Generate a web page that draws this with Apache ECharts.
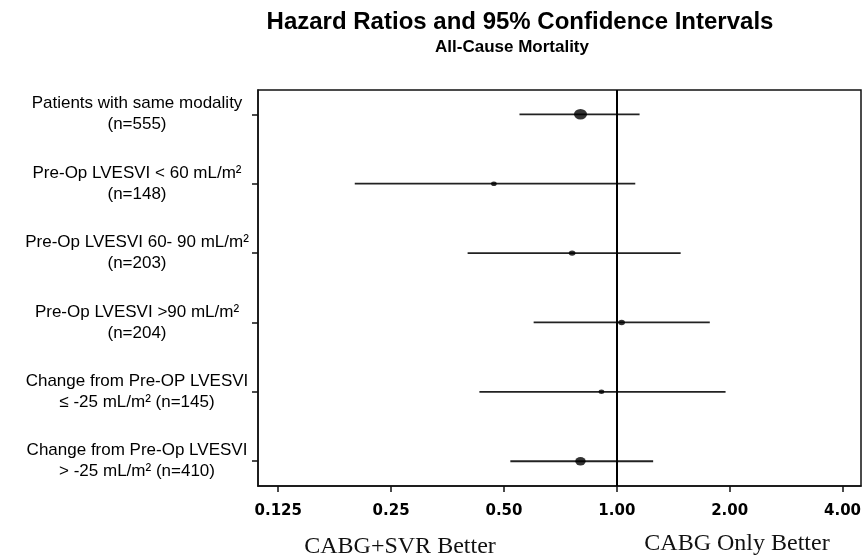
<!DOCTYPE html>
<html>
<head>
<meta charset="utf-8">
<title>Hazard Ratios</title>
<script src="https://cdn.jsdelivr.net/npm/echarts@6/dist/echarts.min.js"></script>
<style>
	html, body { margin: 0; padding: 0; background: #fff; }
	#main { width: 865px; height: 559px; }
</style>
</head>
<body>
<div id="main"></div>
<script>
	/*数据*/
	var groups = [
		'Patients with same modality\n(n=555)',
		'Pre-Op LVESVI < 60 mL/m²\n(n=148)',
		'Pre-Op LVESVI 60- 90 mL/m²\n(n=203)',
		'Pre-Op LVESVI >90 mL/m²\n(n=204)',
		'Change from Pre-OP LVESVI\n≤ -25 mL/m² (n=145)',
		'Change from Pre-Op LVESVI\n> -25 mL/m² (n=410)'
	];
	var patients = [555, 148, 203, 204, 145, 410];
	var hr = [0.80, 0.47, 0.76, 1.03, 0.91, 0.80];
	var lower = [0.55, 0.20, 0.40, 0.60, 0.43, 0.52];
	var upper = [1.15, 1.12, 1.48, 1.77, 1.95, 1.25];
	var xTickVals = [0.125, 0.25, 0.5, 1, 2, 4];
	var xTickText = ['0.125', '0.25', '0.50', '1.00', '2.00', '4.00'];

	var myChart = echarts.init(document.getElementById('main'));

	// 横轴用 log2 空间
	var lineData = [];
	var pointData = [];
	for (var i = 0; i < hr.length; i++) {
		lineData.push([Math.log2(lower[i]), Math.log2(upper[i]), i]);
		pointData.push([Math.log2(hr[i]), i, patients[i]]);
	}

	var option = {
		animation: false,
		grid: {
			left: 258,
			right: 4,
			top: 90,
			bottom: 73,
			show: true,
			borderColor: '#111',
			borderWidth: 1.5
		},
		graphic: [{
			type: 'text',
			x: 520,
			y: 22,
			style: {
				text: 'Hazard Ratios and 95% Confidence Intervals',
				font: 'bold 24px "Liberation Sans", Arial, sans-serif',
				fill: '#000',
				textAlign: 'center',
				textVerticalAlign: 'middle'
			}
		}, {
			type: 'text',
			x: 512,
			y: 47,
			style: {
				text: 'All-Cause Mortality',
				font: 'bold 17px "Liberation Sans", Arial, sans-serif',
				fill: '#000',
				textAlign: 'center',
				textVerticalAlign: 'middle'
			}
		}, {
			type: 'text',
			x: 400,
			y: 547,
			style: {
				text: 'CABG+SVR Better',
				font: '24px "Liberation Serif", "Times New Roman", serif',
				fill: '#111',
				textAlign: 'center',
				textVerticalAlign: 'middle'
			}
		}, {
			type: 'text',
			x: 737,
			y: 544,
			style: {
				text: 'CABG Only Better',
				font: '24px "Liberation Serif", "Times New Roman", serif',
				fill: '#111',
				textAlign: 'center',
				textVerticalAlign: 'middle'
			}
		}],
		xAxis: {
			type: 'value',
			min: Math.log2(0.1104),
			max: Math.log2(4.48),
			splitLine: { show: false },
			axisLine: { onZero: false, lineStyle: { color: '#111', width: 1.5 } },
			axisTick: {
				length: 6,
				customValues: xTickVals.map(Math.log2),
				lineStyle: { color: '#111', width: 1.5 }
			},
			axisLabel: {
				customValues: xTickVals.map(Math.log2),
				margin: 18,
				color: '#000',
				fontFamily: '"DejaVu Sans", Verdana, sans-serif',
				fontWeight: 'bold',
				fontSize: 15,
				formatter: function(v) {
					for (var k = 0; k < xTickVals.length; k++) {
						if (Math.abs(Math.log2(xTickVals[k]) - v) < 1e-6) return xTickText[k];
					}
					return '';
				}
			}
		},
		yAxis: {
			type: 'value',
			inverse: true,
			min: -0.35,
			max: 5.357,
			splitLine: { show: false },
			axisLine: { onZero: false, lineStyle: { color: '#111', width: 1.5 } },
			axisTick: {
				length: 6,
				customValues: [0, 1, 2, 3, 4, 5],
				lineStyle: { color: '#111', width: 1.5 }
			},
			axisLabel: {
				customValues: [0, 1, 2, 3, 4, 5],
				margin: 121,
				align: 'center',
				color: '#000',
				fontFamily: '"Liberation Sans", Arial, sans-serif',
				fontSize: 17,
				lineHeight: 21,
				formatter: function(v) {
					return groups[Math.round(v)] || '';
				}
			}
		},
		series: [{
			/*置信区间*/
			type: 'custom',
			data: lineData,
			encode: { x: [0, 1], y: 2 },
			silent: true,
			renderItem: function(params, api) {
				var p1 = api.coord([api.value(0), api.value(2)]);
				var p2 = api.coord([api.value(1), api.value(2)]);
				return {
					type: 'line',
					shape: { x1: p1[0], y1: p1[1], x2: p2[0], y2: p2[1] },
					style: { stroke: '#222', lineWidth: 1.8 }
				};
			},
			markLine: {
				silent: true,
				symbol: 'none',
				label: { show: false },
				lineStyle: { color: '#000', width: 2, type: 'solid' },
				data: [{ xAxis: Math.log2(1) }]
			}
		}, {
			/*风险比*/
			type: 'scatter',
			data: pointData,
			symbol: 'circle',
			symbolSize: function(val) {
				var w = 3 + val[2] / 55;
				return [w, w * 0.8];
			},
			itemStyle: { color: '#000' },
			z: 5
		}]
	};

	myChart.setOption(option);
</script>
</body>
</html>
